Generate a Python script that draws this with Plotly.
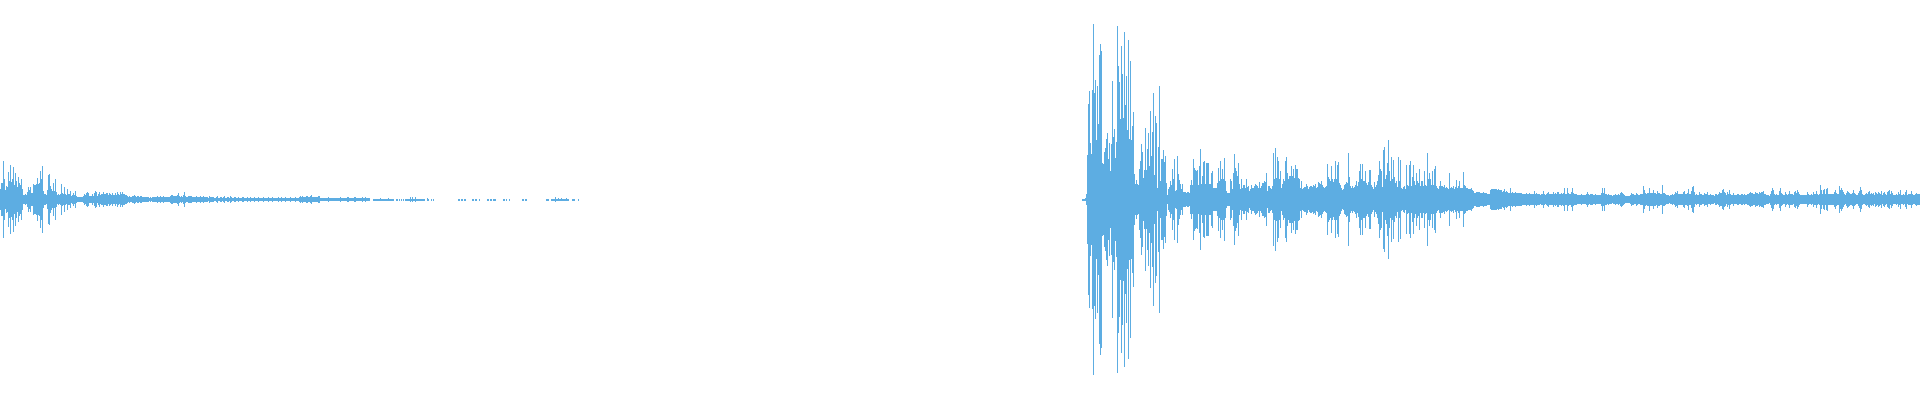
import plotly.graph_objects as go

# Mirrored waveform amplitudes, one value per column.
onset = [
 10,16,16,38,20,9,13,12,27,18,34,17,20,32,14,26,18,12,22,16,
 14,20,10,4,4,5,4,7,12,9,12,6,6,15,14,14,15,21,15,16,
 28,20,33,8,5,5,4,9,24,25,13,10,8,16,8,20,7,4,5,4,
 5,15,6,5,12,5,4,10,5,5,8,3,4,6,4,8,3,2,2,2,
 2,2,2,3,5,4,6,7,6,3,3,3,5,3,6,8,7,3,5,7,
 4,5,5,7,5,5,6,6,4,6,5,4,6,4,4,6,4,7,5,4,
 7,5,7,5,5,4,4,3,2,3,2,2,3,3,4,3,2,3,3,2,
 3,3,2,2,2,2,2,2,2,1,2,1,2,2,2,2,2,3,2,2,
 3,2,2,3,2,2,2,2,2,2,3,4,4,3,3,3,3,4,6,3,
 2,3,2,4,7,3,2,2,3,3,3,3,2,2,2,2,3,2,2,2,
 3,2,2,3,2,2,2,2,1,3,2,2,2,2,1,1,2,3,1,1,
 2,2,1,2,3,1,1,2,2,1,3,2,1,1,2,2,1,1,2,1,
 1,1,2,2,1,1,1,2,1,1,2,1,1,1,2,1,1,1,2,1,
 1,1,1,2,1,1,1,1,2,1,1,1,2,1,1,1,1,1,2,1,
 1,2,1,1,1,2,1,1,1,1,2,1,1,1,1,2,1,1,1,2,
]
fade = [
 3,2,3,2,2,2,3,3,2,2,3,4,2,2,2,2,2,2,3,3,
 1,1,1,1,1,1,1,1,2,1,1,1,1,1,1,1,1,1,1,1,
 2,1,1,1,1,1,1,2,2,1,1,1,1,1,2,2,1,1,1,1,
 1,1,2,1,1,2,1,1,1,1,0,0,0,.6,.6,.6,.6,.6,.6,.6,
]
dashes = [
 1.5,.6,.6,.6,.6,.6,.6,.6,1.5,.6,
 .6,.6,.6,.6,0,0,.6,.6,0,.6,0,.6,0,.6,0,.6,.6,.6,.6,.6,
 2,.6,2,.6,.6,2,.6,.6,.6,.6,.6,.6,.6,.6,.6,0,0,1,.6,0,
 0,.6,0,.6,0,0,0,0,0,0,0,0,0,0,0,0,0,0,0,0,
 0,0,0,0,0,0,0,0,.6,.6,0,.6,.6,0,.6,.6,0,0,0,0,
 0,0,.6,.6,0,.6,.6,0,0,.6,0,0,0,0,0,0,0,.6,.6,0,
 .6,.6,0,.6,.6,.6,0,0,0,0,0,0,0,.6,.6,0,.6,0,0,.6,
 0,0,0,0,0,0,0,0,0,0,0,0,.6,.6,0,.6,.6,0,0,0,
 0,0,0,0,0,0,0,0,0,0,0,0,0,0,0,0,.6,.6,.6,0,
 0,.6,.6,.6,.6,2,.6,.6,1,.6,.6,1.2,.6,.6,.6,.6,1,.6,.6,0,
 0,0,.6,.6,.6,0,0,0,.6,0,
]
burst = [
 .6,.6,.6,1.5,5,
 44,95,108,56,45,109,174,106,119,59,113,75,143,154,147,36,35,47,51,60,
 66,40,56,28,55,118,62,70,41,57,172,133,117,80,152,125,81,166,94,123,
 69,158,60,138,59,73,87,25,15,19,15,14,30,38,55,47,21,29,71,29,
 50,66,33,88,43,67,106,24,83,76,11,52,113,18,40,40,49,37,43,16,
 4,10,12,
 18,14,30,20,40,8,9,43,25,19,15,10,15,7,7,7,6,7,7,6,
]
decay = [
 14,19,14,40,31,29,28,29,14,33,50,15,23,37,38,15,36,36,36,15,
 15,26,28,11,11,11,11,16,31,18,38,20,30,20,41,18,8,6,6,6,
 20,18,10,26,45,31,28,23,36,15,10,20,11,14,14,11,20,12,13,8,
 10,14,11,11,13,15,14,13,11,17,11,13,16,16,18,17,26,8,13,13,
 11,10,13,46,20,51,21,42,38,20,28,11,15,20,18,38,42,26,20,23,
 23,33,23,30,21,34,30,30,21,20,11,18,10,11,12,
 12,15,13,10,12,13,13,12,14,13,15,11,12,17,16,15,18,14,12,11,12,13,
 35,22,20,18,33,20,17,20,38,20,34,37,16,14,11,9,10,14,15,17,
 16,46,22,13,11,13,11,12,14,18,13,17,28,35,20,35,18,18,28,16,
 14,17,29,29,14,12,10,17,12,14,18,24,38,30,28,12,
 49,52,20,24,36,59,28,18,42,20,39,22,16,18,12,42,18,39,11,10,
 12,13,10,34,14,13,34,38,13,22,34,18,14,26,18,16,30,13,18,18,
 13,28,14,13,46,20,26,20,14,28,14,30,33,13,11,10,13,18,13,13,
 12,14,11,12,11,10,26,11,12,11,13,10,12,19,11,13,18,11,11,11,27,14,13,11,11,10,10,
]
tail = [
 10,11,9,8,6,6,7,7,7,7,6,6,6,7,6,6,6,5,5,5,
 9,10,10,10,10,10,10,9,10,9,9,9,7,8,10,7,8,7,6,6,
 11,6,7,6,6,7,6,6,6,6,6,6,5,5,5,5,6,5,5,6,
 5,5,5,5,8,5,6,5,5,5,4,5,5,8,5,4,5,6,7,5,
 5,5,5,7,5,6,5,7,7,5,5,6,5,6,11,5,5,11,6,5,
 5,7,11,6,5,5,5,4,4,4,4,5,4,4,4,4,5,7,5,4,
 5,5,5,4,4,5,4,4,4,4,4,6,11,6,11,5,5,4,5,4,
 4,4,3,4,4,5,4,4,5,4,6,7,6,5,4,3,3,3,3,3,
 4,6,5,5,4,4,6,5,4,4,5,5,5,13,9,6,5,6,6,11,
 6,6,6,9,6,6,5,8,6,6,5,5,14,6,6,5,4,4,4,3,
 4,4,5,4,5,7,6,8,5,5,5,5,5,7,8,5,5,6,10,5,
 5,8,12,13,7,4,5,4,4,7,5,5,4,4,6,5,5,7,4,4,
 5,4,4,4,3,5,5,4,5,7,6,6,9,10,7,6,4,7,5,9,
 5,4,4,6,4,4,4,5,5,4,4,5,5,4,5,4,4,5,5,6,
 7,6,6,5,5,7,6,6,5,7,6,7,7,8,5,5,4,4,4,3,
 5,8,11,9,5,4,5,4,4,8,11,6,5,4,4,7,5,4,5,8,
 5,5,5,4,7,8,6,9,7,5,4,4,4,4,4,4,4,7,5,4,
 4,5,4,7,5,5,8,5,4,5,14,9,5,9,10,5,10,11,5,5,
 5,5,5,5,7,9,6,5,5,13,9,11,9,7,5,4,6,8,7,6,
 5,5,6,9,6,5,4,4,6,8,12,9,5,4,4,5,6,5,7,8,
 5,6,5,6,4,7,6,5,7,6,5,8,4,6,7,5,4,7,8,9,
 5,8,6,4,4,4,5,4,7,5,9,4,4,5,4,7,9,4,5,5,
 5,8,5,4,4,5,6,5,5,5,
]
BURST_START = 1082

left = onset + fade + dashes
amplitude = left + [0] * (BURST_START - len(left)) + burst + decay + tail
columns = list(range(len(amplitude)))

fig = go.Figure(go.Bar(
    x=columns,
    y=[2 * a for a in amplitude],
    base=[-a for a in amplitude],
    marker=dict(color="#5dade2", line=dict(width=0)),
    width=1,
    hoverinfo="skip",
))
fig.update_layout(
    width=1920, height=400,
    margin=dict(l=0, r=0, t=0, b=0),
    paper_bgcolor="white", plot_bgcolor="white",
    showlegend=False, bargap=0,
    xaxis=dict(visible=False, range=[-0.5, 1919.5]),
    yaxis=dict(visible=False, range=[-199.1, 198.1]),
)
fig.write_html(
    "out.html",
    config={"displayModeBar": False},
    post_script="document.body.style.margin='0';document.body.style.overflow='hidden';",
)
